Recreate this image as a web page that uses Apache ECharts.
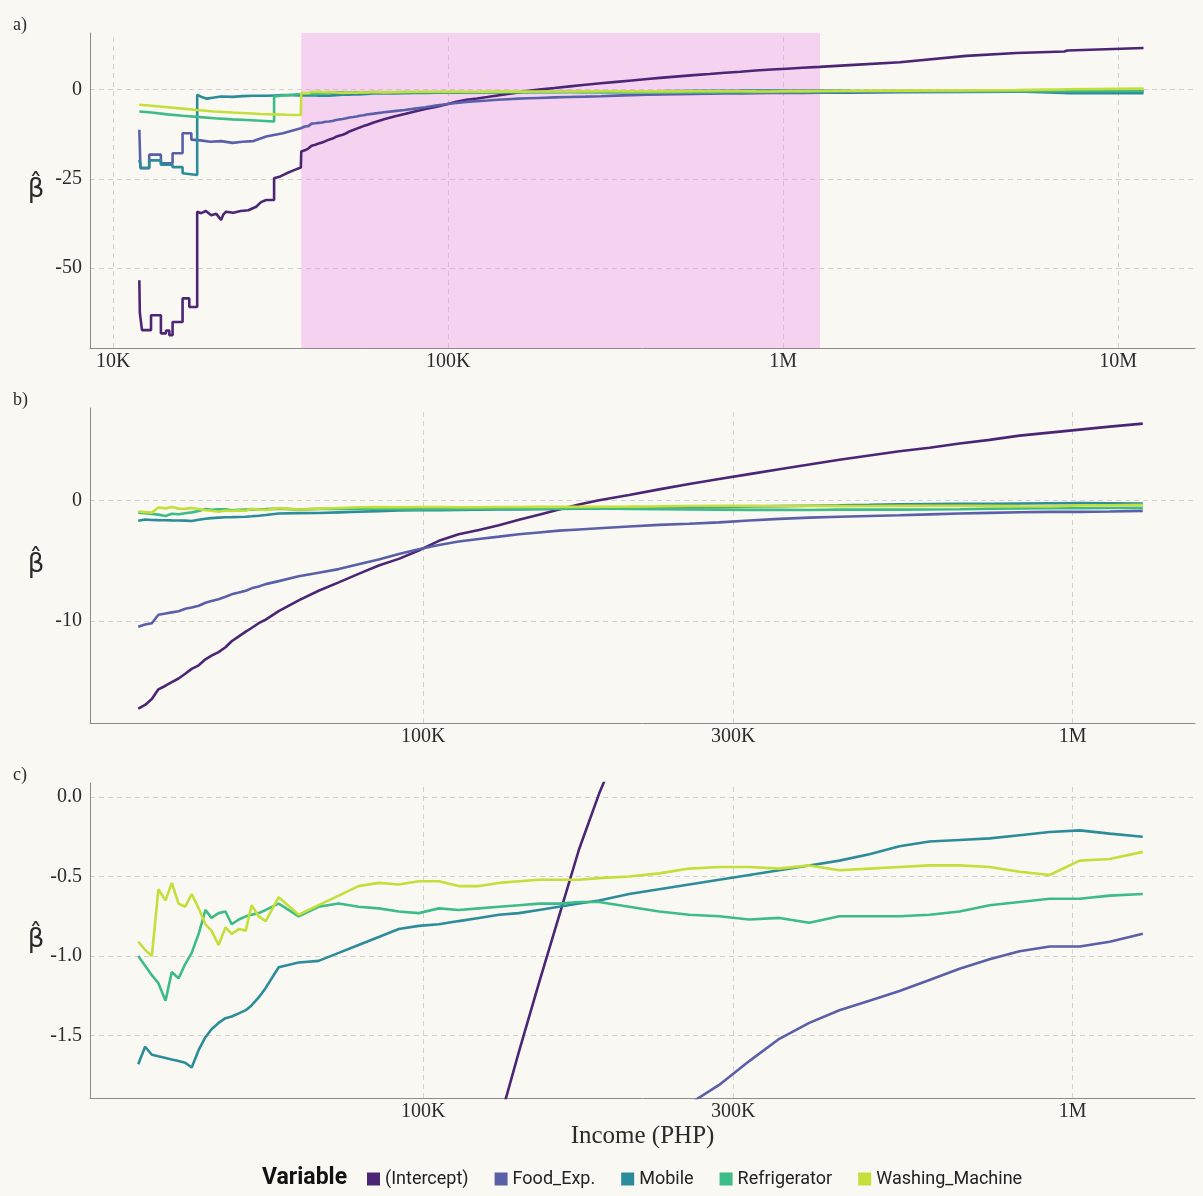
<!DOCTYPE html>
<html><head><meta charset="utf-8">
<script src="https://cdn.jsdelivr.net/npm/echarts@6/dist/echarts.min.js"></script>
<style>html,body{margin:0;padding:0;background:#faf8f2;}#main{width:1203px;height:1196px;}</style>
</head><body><div id="main"></div>
<script>
// ---------- DATA ----------
const seriesNames = ['(Intercept)', 'Food_Exp.', 'Mobile', 'Refrigerator', 'Washing_Machine'];
const seriesColors = ['#4b2675', '#5a60a8', '#2d8c99', '#3dbb88', '#c4de3a'];

// Low-income tail (panel a only), pairs [income, beta]
const interceptLow = [[11960,-53.4],[12000,-62.5],[12180,-67.4],[12960,-67.4],[12960,-63.2],[13870,-63.2],[13870,-68.3],[14370,-68.3],[14370,-67.5],[14700,-67.5],[14700,-68.8],[15030,-68.8],[15030,-65.1],[16100,-65.1],[16100,-58.5],[16860,-58.5],[16860,-60.9],[17800,-60.9],[17800,-34.2],[18300,-34.6],[18900,-34.0],[19600,-35.2],[20300,-34.8],[20980,-36.5],[21300,-35.0],[21700,-34.2],[22800,-34.5],[24000,-34.0],[25300,-33.8],[26700,-32.8],[27600,-31.5],[28600,-30.9],[30200,-30.9],[30200,-24.8],[31500,-24.3],[32800,-23.5],[34500,-22.6],[36300,-21.8]];
const foodLow = [[11960,-11.2],[12050,-22.0],[12800,-22.0],[12800,-18.2],[13870,-18.2],[13870,-20.6],[15030,-20.6],[15030,-17.8],[16100,-17.8],[16100,-12.2],[17100,-12.2],[17100,-14.0],[18200,-14.2],[19500,-14.6],[21000,-14.4],[22700,-14.9],[24300,-14.6],[26200,-14.4],[28600,-13.1],[32100,-12.2],[36300,-10.8]];
const mobileLow = [[11960,-19.6],[12100,-21.9],[12800,-21.9],[12800,-19.8],[13870,-19.8],[13870,-21.0],[15030,-21.0],[15030,-21.7],[16100,-21.7],[16100,-23.4],[17800,-23.9],[17800,-1.4],[18300,-2.0],[19000,-2.5],[20000,-2.2],[21000,-1.9],[22700,-2.0],[24300,-1.8],[26200,-1.7],[28600,-1.7],[30200,-1.6],[32100,-1.5],[36300,-1.6]];
const fridgeLow = [[11960,-6.1],[13000,-6.4],[14500,-6.9],[16100,-7.3],[17800,-7.6],[20000,-8.0],[22700,-8.3],[25000,-8.5],[27500,-8.7],[30200,-8.9],[30200,-1.9],[32100,-1.6],[34000,-1.4],[36300,-1.2]];
const washLow = [[11960,-4.2],[13000,-4.5],[14500,-4.9],[16100,-5.3],[17800,-5.7],[20000,-6.1],[22700,-6.4],[25000,-6.6],[27500,-6.8],[30200,-6.9],[33000,-7.0],[36300,-7.1]];

// Shaded range (panels b and c) – shared income grid
const incomeMid = [36400,37300,38200,39100,40100,41000,42000,43000,44000,45100,46200,47200,48400,49600,50700,52000,53300,54400,55800,57200,59900,64300,69000,74100,79500,85400,91700,98400,105700,113400,121800,130800,140400,150700,161800,173700,186500,207500,230800,256700,285500,317700,353400,393000,437300,486400,541200,601900,669500,744800,828400,921500,1025100,1140300,1282200];
const interceptMid = [-17.3,-17.0,-16.5,-15.7,-15.4,-15.1,-14.8,-14.4,-14.0,-13.7,-13.2,-12.9,-12.6,-12.2,-11.7,-11.3,-10.9,-10.6,-10.2,-9.9,-9.2,-8.3,-7.5,-6.8,-6.1,-5.4,-4.85,-4.15,-3.35,-2.8,-2.45,-2.05,-1.6,-1.17,-0.75,-0.33,0.02,0.47,0.93,1.38,1.8,2.2,2.6,3.0,3.4,3.75,4.1,4.4,4.75,5.05,5.4,5.65,5.9,6.15,6.4];
const foodMid = [-10.5,-10.3,-10.2,-9.5,-9.4,-9.3,-9.2,-9.0,-8.9,-8.75,-8.5,-8.35,-8.2,-8.0,-7.8,-7.65,-7.5,-7.3,-7.15,-6.95,-6.7,-6.3,-6.0,-5.7,-5.3,-4.9,-4.45,-4.05,-3.7,-3.4,-3.2,-3.0,-2.8,-2.65,-2.5,-2.4,-2.3,-2.15,-2.02,-1.93,-1.81,-1.66,-1.52,-1.42,-1.34,-1.28,-1.22,-1.15,-1.08,-1.02,-0.97,-0.94,-0.94,-0.91,-0.86];
const mobileMid = [-1.68,-1.57,-1.62,-1.63,-1.64,-1.65,-1.66,-1.67,-1.70,-1.59,-1.51,-1.46,-1.42,-1.39,-1.38,-1.36,-1.34,-1.31,-1.26,-1.20,-1.07,-1.04,-1.03,-0.98,-0.93,-0.88,-0.83,-0.81,-0.80,-0.78,-0.76,-0.74,-0.73,-0.71,-0.69,-0.67,-0.65,-0.61,-0.58,-0.55,-0.52,-0.49,-0.46,-0.43,-0.40,-0.36,-0.31,-0.28,-0.27,-0.26,-0.24,-0.22,-0.21,-0.23,-0.25];
const fridgeMid = [-1.00,-1.06,-1.12,-1.17,-1.28,-1.10,-1.14,-1.05,-0.98,-0.86,-0.71,-0.76,-0.73,-0.72,-0.80,-0.77,-0.75,-0.74,-0.73,-0.71,-0.67,-0.75,-0.69,-0.67,-0.69,-0.70,-0.72,-0.73,-0.70,-0.71,-0.70,-0.69,-0.68,-0.67,-0.67,-0.66,-0.66,-0.69,-0.72,-0.74,-0.75,-0.77,-0.76,-0.79,-0.75,-0.75,-0.75,-0.74,-0.72,-0.68,-0.66,-0.64,-0.64,-0.62,-0.61];
const washMid = [-0.91,-0.96,-1.00,-0.58,-0.65,-0.54,-0.67,-0.69,-0.61,-0.70,-0.80,-0.84,-0.93,-0.82,-0.86,-0.83,-0.84,-0.68,-0.75,-0.78,-0.63,-0.74,-0.68,-0.62,-0.56,-0.54,-0.55,-0.53,-0.53,-0.56,-0.56,-0.54,-0.53,-0.52,-0.52,-0.52,-0.51,-0.50,-0.48,-0.45,-0.44,-0.44,-0.45,-0.43,-0.46,-0.45,-0.44,-0.43,-0.43,-0.44,-0.47,-0.49,-0.40,-0.39,-0.345];

// High-income tail (panel a only)
const incomeHigh = [1580000,2230000,3520000,4970000,6900000,7050000,11900000];
const interceptHigh = [6.9,7.7,9.5,10.3,10.7,11.0,11.7];
const foodHigh = [-0.8,-0.7,-0.6,-0.55,-0.5,-0.5,-0.45];
const mobileHigh = [-0.3,-0.35,-0.4,-0.5,-0.9,-1.0,-1.0];
const fridgeHigh = [-0.55,-0.5,-0.45,-0.4,-0.4,-0.4,-0.35];
const washHigh = [-0.3,-0.25,-0.2,-0.1,0.1,0.15,0.3];

const shadeRange = [36400, 1287000];
const xTicksA = [10000, 100000, 1000000, 10000000];
const xTicksBC = [100000, 300000, 1000000];
const yTicksA = [-50, -25, 0];
const yTicksB = [-10, 0];
const yTicksC = [-1.5, -1.0, -0.5, 0.0];
const panelLabels = ['a)', 'b)', 'c)'];
const xTitle = 'Income (PHP)';
const yTitle = 'β\u0302';
const legendTitle = 'Variable';

// ---------- BUILD ----------
function pairs(xs, ys) { return xs.map((x, i) => [x, ys[i]]); }
const lows = [interceptLow, foodLow, mobileLow, fridgeLow, washLow];
const mids = [interceptMid, foodMid, mobileMid, fridgeMid, washMid];
const highs = [interceptHigh, foodHigh, mobileHigh, fridgeHigh, washHigh];
const fullData = mids.map((m, i) => lows[i].concat(pairs(incomeMid, m), pairs(incomeHigh, highs[i])));
const zoomData = mids.map(m => pairs(incomeMid, m));

function fmtX(v) { return v >= 1e6 ? (v / 1e6) + 'M' : (v / 1e3) + 'K'; }

const SERIF = 'Liberation Serif';
const gridTop = [33, 408, 783];
const gridH = 315;
const gridLeft = 90, gridW = 1105;
const textColor = '#2b2b2b';
const gridLineColor = '#d2d2d2';

const grids = gridTop.map(t => ({ left: gridLeft, top: t, width: gridW, height: gridH }));

const xRanges = [[8520, 16950000], [30680, 1543000], [30680, 1543000]];
const yRanges = [[-72.4, 15.9], [-18.5, 7.7], [-1.892, 0.088]];
const yTicks = [yTicksA, yTicksB, yTicksC];
const xTicks = [xTicksA, xTicksBC, xTicksBC];

const xAxes = xRanges.map((r, g) => ({
  type: 'log', logBase: 10, gridIndex: g, min: r[0], max: r[1],
  axisLine: { show: true, onZero: false, lineStyle: { color: '#8c8c8c', width: 1 } },
  axisTick: { show: false }, axisLabel: { show: false }, splitLine: { show: false },
  name: g === 2 ? xTitle : '', nameLocation: 'middle', nameGap: 26,
  nameTextStyle: { fontFamily: SERIF, fontSize: 25, color: textColor, verticalAlign: 'top' }
}));

const yAxes = yRanges.map((r, g) => ({
  type: 'value', gridIndex: g, min: r[0], max: r[1],
  axisLine: { show: true, lineStyle: { color: '#8c8c8c', width: 1 } },
  axisTick: { show: false, customValues: yTicks[g] },
  axisLabel: {
    customValues: yTicks[g], margin: 8, fontFamily: SERIF, fontSize: 20, color: textColor,
    formatter: v => g === 2 ? Number(v).toFixed(1) : String(v)
  },
  splitLine: { show: true, lineStyle: { type: [5, 4], color: gridLineColor, width: 1 } }
}));

const series = [];
for (let g = 0; g < 3; g++) {
  // helper series: vertical grid lines + x tick labels (+ shaded range in panel a)
  const helper = {
    type: 'line', name: '', xAxisIndex: g, yAxisIndex: g, data: [], silent: true,
    markLine: {
      silent: true, symbol: 'none', z: 0, animation: false,
      lineStyle: { type: [5, 4], color: gridLineColor, width: 1 },
      label: { show: true, position: 'start', distance: 4, formatter: p => fmtX(p.value),
               fontFamily: SERIF, fontSize: 20, color: textColor },
      emphasis: { disabled: true },
      data: xTicks[g].map(v => ({ xAxis: v }))
    }
  };
  if (g === 0) {
    helper.markArea = {
      silent: true, animation: false, z: 1,
      itemStyle: { color: 'rgba(238,130,238,0.32)' },
      data: [[{ xAxis: shadeRange[0] }, { xAxis: shadeRange[1] }]]
    };
  }
  series.push(helper);
  const src = g === 0 ? fullData : zoomData;
  seriesNames.forEach((n, i) => {
    series.push({
      type: 'line', name: n, xAxisIndex: g, yAxisIndex: g, data: src[i],
      showSymbol: false, symbol: 'none', animation: false, z: 3, clip: true,
      lineStyle: { width: 2.6, color: seriesColors[i] },
      itemStyle: { color: seriesColors[i] }, emphasis: { disabled: true }
    });
  });
}

const graphics = [];
gridTop.forEach((t, g) => {
  graphics.push({ type: 'text', left: 13, top: t - 17,
    style: { text: panelLabels[g], font: '18px "Liberation Serif"', fill: textColor } });
  graphics.push({ type: 'text', x: 36, y: t + gridH / 2, 
    style: { text: yTitle, font: '26px "DejaVu Sans"', fill: textColor, align: 'center', verticalAlign: 'middle' } });
});
graphics.push({ type: 'text', left: 262, top: 1167,
  style: { text: legendTitle, font: 'bold 23px Roboto', fill: '#111' } });

const option = {
  backgroundColor: '#faf8f2',
  animation: false,
  grid: grids,
  xAxis: xAxes,
  yAxis: yAxes,
  legend: {
    data: seriesNames, left: 362, top: 1165, icon: 'rect', itemWidth: 13, itemHeight: 13, itemGap: 26,
    textStyle: { fontFamily: 'Roboto', fontSize: 18, color: '#222' }
  },
  graphic: graphics,
  series: series
};
const chart = echarts.init(document.getElementById('main'), null, { renderer: 'canvas' });
chart.setOption(option);
</script></body></html>
